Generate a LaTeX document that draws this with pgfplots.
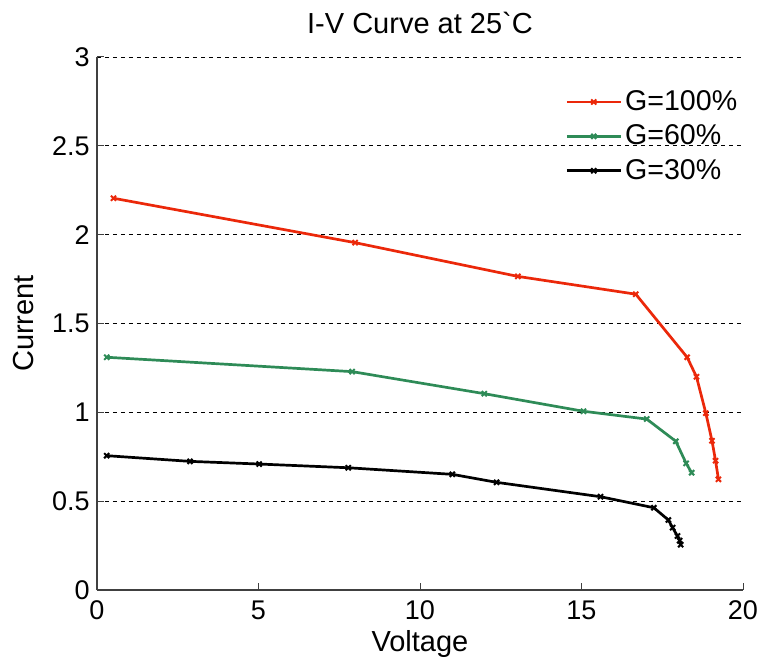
\documentclass[border=0pt]{standalone}
\usepackage{fontspec}
\setmainfont{Liberation Sans}
\usepackage{pgfplots}
\pgfplotsset{compat=1.18}
\usetikzlibrary{calc}
\definecolor{cRed}{RGB}{235,40,10}
\definecolor{cGreen}{RGB}{46,139,87}
\begin{document}
\fontsize{11.5pt}{13pt}\selectfont
\begin{tikzpicture}
\begin{axis}[
  scale only axis,
  width=323pt, height=266.5pt,
  xmin=0, xmax=20, ymin=0, ymax=3,
  xtick={0,5,...,20}, ytick={0,0.5,...,3},
  axis x line*=bottom, axis y line*=left,
  axis line style={black!75, line width=0.6pt},
  tick align=inside, tick style={black!75, line width=0.5pt}, major tick length=3.5pt,
  ymajorgrids, grid style={black, line width=0.4pt, dash pattern=on 2pt off 2pt},
  /pgf/number format/assume math mode=true,
  ticklabel style={font=\fontsize{13.5pt}{15pt}\selectfont, inner sep=0pt},
  yticklabel style={anchor=east, xshift=-3.5pt},
  xticklabel style={anchor=base, yshift=-15pt},
  xlabel={Voltage}, ylabel={Current},
  label style={font=\fontsize{14.5pt}{16pt}\selectfont},
  xlabel style={at={(axis description cs:0.5,-0.1163)}, anchor=base},
  ylabel style={at={(axis description cs:-0.113,0.5)}, anchor=center},
  every axis title shift=0pt,
  title={I-V Curve at 25\textasciigrave C},
  title style={at={(axis description cs:0.5,1.045)}, anchor=base, font=\fontsize{14.5pt}{16pt}\selectfont},
  legend style={draw=none, fill=none, at={(axis description cs:0.7245,0.944)}, anchor=north west,
    font=\fontsize{14.3pt}{16pt}\selectfont, row sep=2.5pt, inner sep=0pt,
    nodes={inner sep=1.5pt}},
  legend cell align=left,
  legend image code/.code={\draw[#1, mark repeat=2, mark phase=2] plot coordinates {(0pt,0pt) (13.5pt,0pt) (27pt,0pt)};},
  every axis plot/.append style={line width=1.35pt, mark=x, mark size=1.8pt, mark options={solid, line width=1pt}},
  clip=false,
]
\addplot[cRed] coordinates {
(0.51,2.205) (7.99,1.955) (13.03,1.765) (16.68,1.665) (18.27,1.31) (18.56,1.20)
(18.85,0.995) (19.04,0.84) (19.15,0.728) (19.24,0.623)};
\addlegendentry{G=100\%}
\addplot[cGreen] coordinates {
(0.30,1.31) (7.9,1.229) (11.99,1.105) (15.06,1.006) (17.02,0.962) (17.92,0.837)
(18.24,0.713) (18.41,0.66)};
\addlegendentry{G=60\%}
\addplot[black] coordinates {
(0.30,0.756) (2.88,0.724) (5.02,0.709) (7.78,0.688) (11.0,0.651) (12.37,0.606)
(15.59,0.525) (17.24,0.463) (17.69,0.394) (17.82,0.351) (17.97,0.304) (18.04,0.278) (18.07,0.255)};
\addlegendentry{G=30\%}
\end{axis}
\pgfresetboundingbox
\useasboundingbox ($(current axis.south west)+(-48.5pt,-36.5pt)$) rectangle ($(current axis.north east)+(11pt,28.5pt)$);
\end{tikzpicture}
\end{document}
